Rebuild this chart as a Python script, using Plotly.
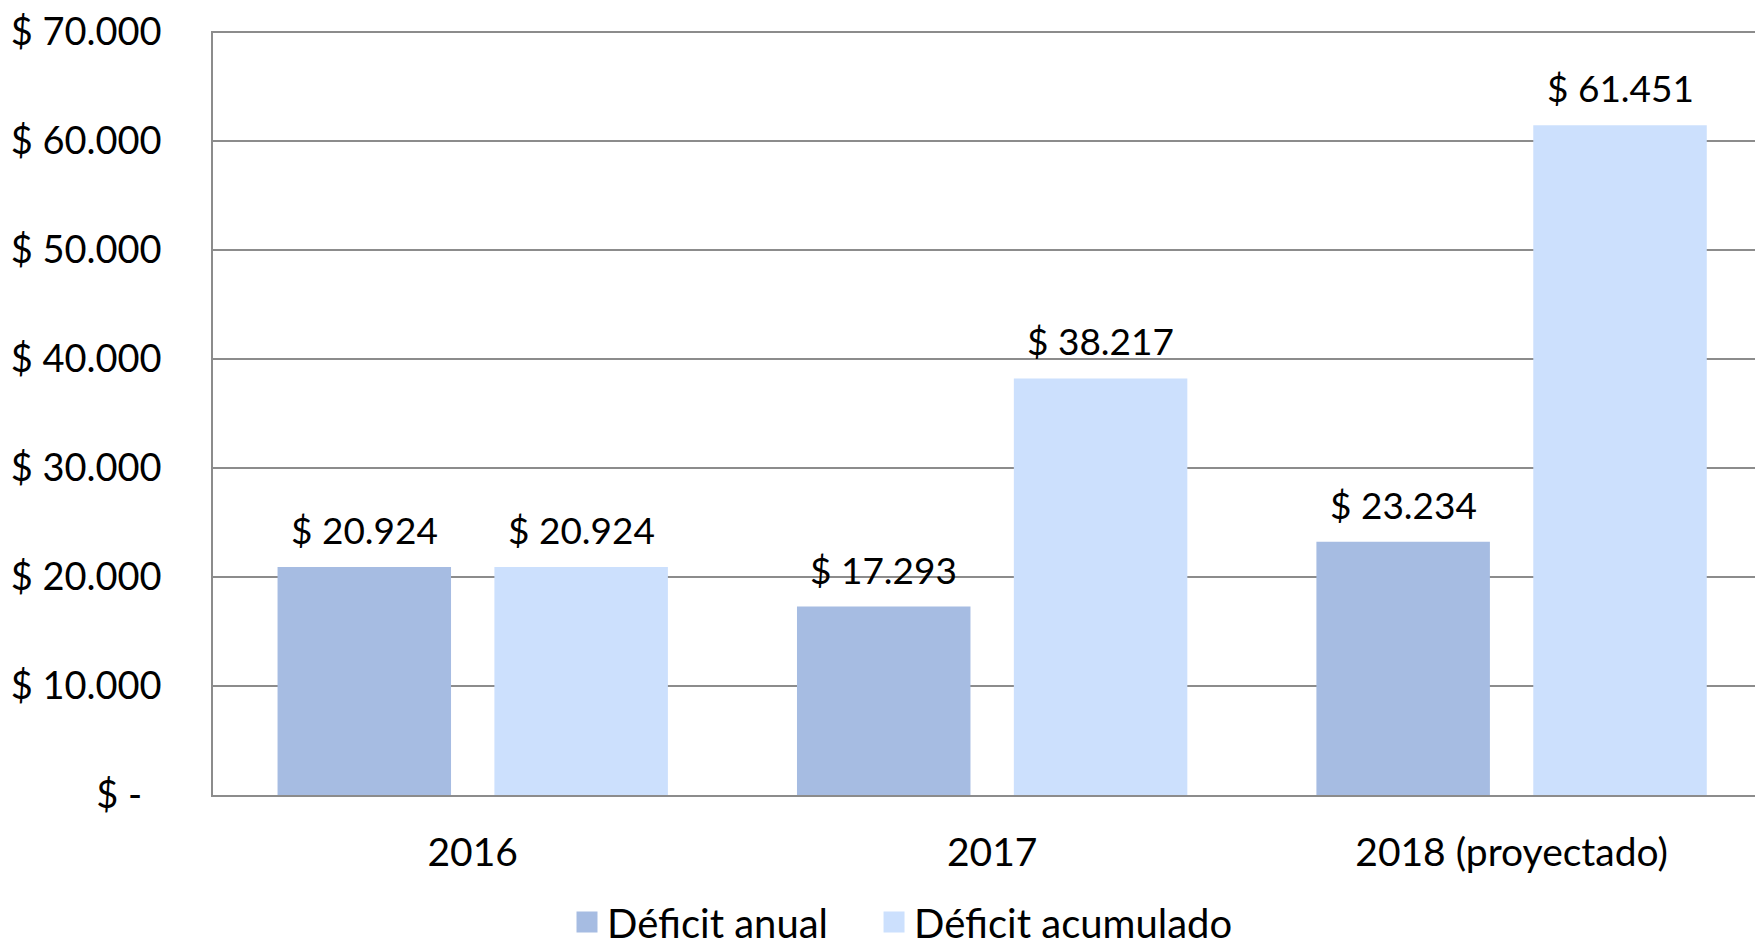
import plotly.graph_objects as go

categories = ["2016", "2017", "2018 (proyectado)"]
deficit_anual = [20924, 17293, 23234]
deficit_acumulado = [20924, 38217, 61451]
series_names = ["Déficit anual", "Déficit acumulado"]
y_tickvals = [0, 10000, 20000, 30000, 40000, 50000, 60000, 70000]
y_ticktext = ["$ -\u00a0\u00a0", "$ 10.000", "$ 20.000", "$ 30.000", "$ 40.000",
              "$ 50.000", "$ 60.000", "$ 70.000"]

FONT = "Lato"
FS = 37
colors = ["#A6BCE2", "#CCE0FD"]
legend_pad = ["\u00a0" * 4, ""]

def fmt(v):
    return "$ " + f"{v:,}".replace(",", ".")

fig = go.Figure()
for name, vals, col in zip(series_names, [deficit_anual, deficit_acumulado], colors):
    fig.add_trace(go.Bar(x=categories, y=vals, name=name, legendgroup=name, showlegend=False,
                         marker=dict(color=col, line=dict(width=0))))
# legend entries (large square swatches)
for name, col, pad in zip(series_names, colors, legend_pad):
    fig.add_trace(go.Scatter(x=[None], y=[None], mode="markers", name=name + pad, legendgroup=name,
                             marker=dict(symbol="square", size=16, color=col,
                                         line=dict(color=col, width=5))))

# page body has an 8px margin: figure is sized/offset to compensate
W, H = 1755, 932
ml, mr, mt, mb = 205, 0, 23, 145
xr = [-0.5, 2.484]
yr = [0, 70100]
plot_w = W - ml - mr
cat_px = plot_w / (xr[1] - xr[0])
bargap = 0.165
slot_px = cat_px * (1 - bargap) / 2

annotations = []
for i, vals in enumerate([deficit_anual, deficit_acumulado]):
    shift = (i - 0.5) * slot_px
    for j, v in enumerate(vals):
        annotations.append(dict(x=j, y=v, xref="x", yref="y", text=fmt(v), showarrow=False,
                                yanchor="bottom", xanchor="center", xshift=shift, yshift=13,
                                font=dict(family=FONT, size=FS, color="#000000")))

fig.update_layout(
    width=W, height=H,
    margin=dict(l=ml, r=mr, t=mt, b=mb, autoexpand=False),
    paper_bgcolor="white", plot_bgcolor="white",
    barmode="group", bargap=bargap, bargroupgap=0.2,
    font=dict(family=FONT, size=FS, color="#000000"),
    annotations=annotations,
    showlegend=True,
    legend=dict(orientation="h", xref="container", yref="container", x=559 / W, y=0.0193,
                xanchor="left", yanchor="middle", font=dict(family=FONT, size=40),
                traceorder="normal", bgcolor="rgba(0,0,0,0)", borderwidth=0),
    xaxis=dict(range=xr, showgrid=False, showline=True, linecolor="#8C8C8C", linewidth=2,
               ticks="", ticklabelstandoff=22, tickfont=dict(family=FONT, size=39), fixedrange=True),
    yaxis=dict(range=yr, tickvals=y_tickvals, ticktext=y_ticktext, showgrid=True,
               gridcolor="#8C8C8C", gridwidth=1.5, showline=True, linecolor="#8C8C8C", linewidth=1.5,
               zeroline=False, ticks="", ticklabelstandoff=42, ticklabeloverflow="allow",
               tickfont=dict(family=FONT, size=38)),
)

fig.write_html("out.html")
